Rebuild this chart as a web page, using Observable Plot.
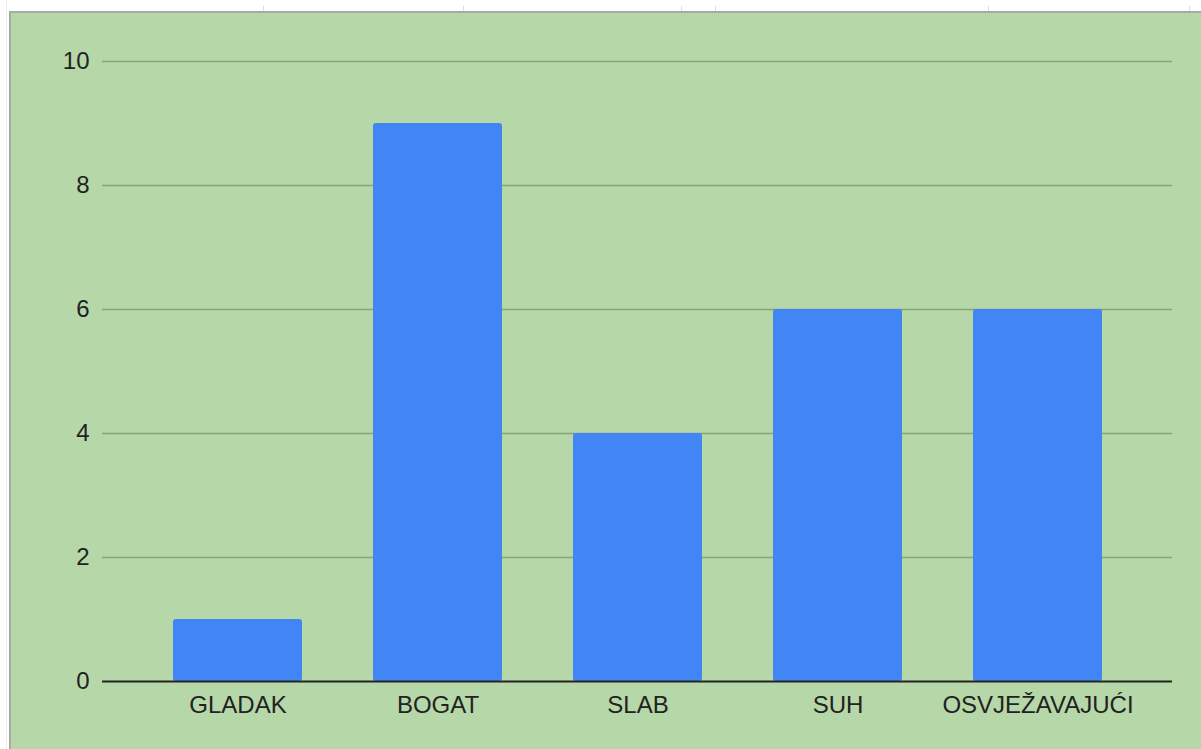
<!DOCTYPE html>
<html>
<head>
<meta charset="utf-8">
<script src="https://cdn.jsdelivr.net/npm/d3@7"></script>
<script src="https://cdn.jsdelivr.net/npm/@observablehq/plot@0.6"></script>
<style>
  html, body { margin: 0; padding: 0; background: #ffffff; }
  #wrap { position: relative; width: 1201px; height: 749px; overflow: hidden; }
  #panel { position: absolute; left: 9px; top: 11px; right: 0; bottom: 0;
           background: #b6d7a8; border-left: 2px solid #a9a9a9; border-top: 2px solid #a9a9a9; }
  #edge { position: absolute; left: 6px; top: 0; width: 1px; bottom: 0; background: #ececec; }
  .tk { position: absolute; top: 6px; width: 1px; height: 5px; background: #dcdcdc; }
  #chart { position: absolute; left: 0; top: 0; }
</style>
</head>
<body>
<div id="wrap">
  <div id="edge"></div>
  <div class="tk" style="left:263px"></div>
  <div class="tk" style="left:463px"></div>
  <div class="tk" style="left:681px"></div>
  <div class="tk" style="left:715px"></div>
  <div class="tk" style="left:988px"></div>
  <div class="tk" style="left:1189px"></div>
  <div id="panel"></div>
  <div id="chart"></div>
</div>
<script>
const categories = ["GLADAK", "BOGAT", "SLAB", "SUH", "OSVJEŽAVAJUĆI"];
const values = [1, 9, 4, 6, 6];
const yTicks = [0, 2, 4, 6, 8, 10];

const data = categories.map((c, i) => ({category: c, value: values[i]}));

const chart = Plot.plot({
  width: 1201,
  height: 749,
  marginLeft: 102,
  marginRight: 29,
  marginTop: 61,
  marginBottom: 68,
  style: {background: "transparent", fontFamily: "'Liberation Sans', Arial, sans-serif", fontSize: "24px", color: "#222"},
  x: {domain: categories, paddingInner: 0.355, paddingOuter: 0.3525, label: null},
  y: {domain: [0, 10], ticks: yTicks, label: null},
  marks: [
    Plot.ruleY(yTicks.filter(t => t > 0), {stroke: "#86a47a", strokeWidth: 1.5}),
    Plot.barY(data, {x: "category", y: "value", fill: "#4285f4", rx: 3}),
    Plot.ruleY([0], {stroke: "#222", strokeWidth: 2}),
    Plot.axisY({ticks: yTicks, tickSize: 0, tickPadding: 13, label: null, fontSize: 24}),
    Plot.axisX({tickSize: 0, tickPadding: 14, label: null, fontSize: 24})
  ]
});
document.getElementById("chart").appendChild(chart);
</script>
</body>
</html>
